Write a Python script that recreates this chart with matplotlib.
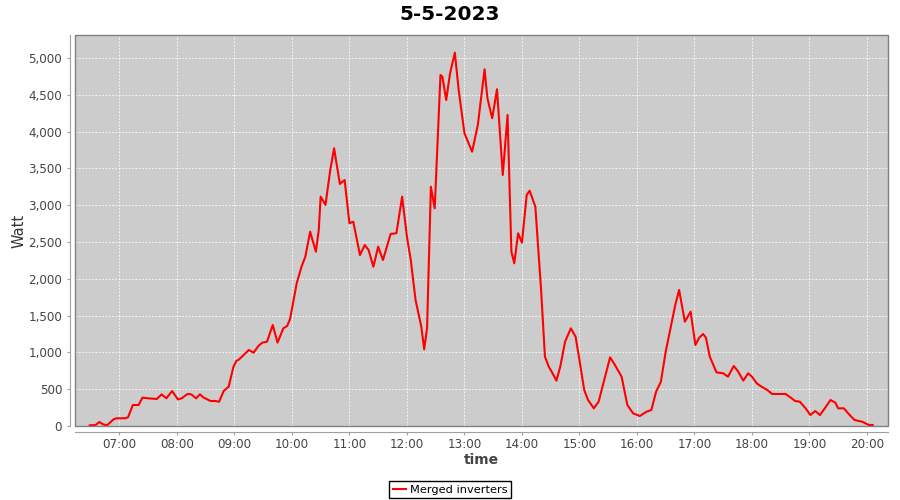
import numpy as np
import pandas as pd
import matplotlib
matplotlib.use("Agg")
import matplotlib.pyplot as plt
import matplotlib.dates as mdates
import matplotlib.patches as mpatches
from matplotlib.ticker import FuncFormatter, MultipleLocator

# readings of the merged inverters, 5-5-2023
times = ["06:29", "06:35", "06:39", "06:43", "06:47", "06:54", "06:57", "07:06", "07:09", "07:14",
         "07:20", "07:24", "07:30", "07:39", "07:44", "07:49", "07:55", "08:01", "08:05", "08:11",
         "08:15", "08:20", "08:24", "08:28", "08:35", "08:40", "08:44", "08:49", "08:54", "08:59",
         "09:02", "09:05", "09:15", "09:20", "09:25", "09:29", "09:34", "09:40", "09:45", "09:51",
         "09:55", "09:58", "10:05", "10:10", "10:14", "10:19", "10:25", "10:28", "10:30", "10:35",
         "10:40", "10:44", "10:50", "10:55", "11:00", "11:04", "11:11", "11:16", "11:20", "11:25",
         "11:30", "11:35", "11:43", "11:49", "11:55", "12:00", "12:04", "12:09", "12:15", "12:18",
         "12:21", "12:25", "12:29", "12:35", "12:37", "12:41", "12:45", "12:50", "12:54", "13:00",
         "13:08", "13:14", "13:21", "13:24", "13:29", "13:34", "13:40", "13:45", "13:49", "13:52",
         "13:56", "14:00", "14:05", "14:08", "14:14", "14:20", "14:24", "14:28", "14:31", "14:36",
         "14:40", "14:45", "14:51", "14:56", "15:00", "15:05", "15:09", "15:15", "15:20", "15:25",
         "15:32", "15:37", "15:44", "15:50", "15:56", "16:03", "16:10", "16:15", "16:20", "16:25",
         "16:30", "16:35", "16:40", "16:44", "16:50", "16:56", "17:01", "17:05", "17:09", "17:12",
         "17:16", "17:23", "17:30", "17:35", "17:41", "17:45", "17:51", "17:56", "18:00", "18:05",
         "18:10", "18:16", "18:21", "18:35", "18:40", "18:45", "18:50", "18:56", "19:01", "19:06",
         "19:11", "19:16", "19:22", "19:27", "19:30", "19:36", "19:41", "19:47", "19:55", "20:02",
         "20:06"]
watts = [10, 12, 54, 23, 10, 91, 105, 105, 118, 285,
         285, 385, 376, 367, 430, 376, 475, 362, 376, 435,
         430, 376, 430, 385, 340, 340, 330, 480, 534, 806,
         883, 906, 1033, 996, 1087, 1132, 1145, 1372, 1132, 1327,
         1359, 1450, 1939, 2164, 2300, 2640, 2368, 2663, 3116, 3003,
         3478, 3773, 3288, 3342, 2754, 2776, 2323, 2459, 2391, 2164,
         2436, 2255, 2610, 2618, 3116, 2572, 2255, 1712, 1349, 1042,
         1327, 3251, 2958, 4769, 4746, 4429, 4792, 5072, 4565, 3977,
         3727, 4090, 4846, 4452, 4181, 4575, 3410, 4226, 2368, 2210,
         2618, 2491, 3139, 3197, 2980, 1848, 942, 806, 738, 616,
         806, 1145, 1327, 1213, 897, 489, 353, 240, 330, 580,
         933, 829, 670, 285, 172, 136, 194, 217, 466, 602,
         1009, 1327, 1644, 1848, 1417, 1553, 1100, 1200, 1250, 1200,
         942, 729, 716, 670, 815, 751, 616, 716, 670, 580,
         534, 489, 435, 435, 390, 340, 330, 240, 149, 204,
         149, 240, 353, 317, 240, 240, 163, 82, 58, 14,
         14]

day = "2023-05-05"
t = pd.to_datetime([day + " " + s for s in times])

fig = plt.figure(figsize=(9, 5), dpi=100)
ax = fig.add_axes([0.0837, 0.148, 0.903, 0.782])
ax.set_facecolor("#cccccc")

ax.plot(t, watts, color="red", lw=1.5, label="Merged inverters")

ax.set_xlim(pd.Timestamp(day + " 06:14"), pd.Timestamp(day + " 20:22"))
ax.set_ylim(0, 5312)

ax.xaxis.set_major_locator(mdates.HourLocator())
ax.xaxis.set_major_formatter(mdates.DateFormatter("%H:%M"))
ax.yaxis.set_major_locator(MultipleLocator(500))
ax.yaxis.set_major_formatter(FuncFormatter(lambda v, p: f"{v:,.0f}"))

ax.grid(True, color="white", ls=(0, (2, 2)), lw=0.6)
ax.set_axisbelow(True)

for s in ["top", "right"]:
    ax.spines[s].set_visible(False)
for s in ["left", "bottom"]:
    ax.spines[s].set_position(("outward", 4))
    ax.spines[s].set_color("#a0a0a0")
ax.add_patch(mpatches.Rectangle((0, 0), 1, 1, transform=ax.transAxes, fill=False,
                                edgecolor="#808080", lw=1, zorder=5, clip_on=False))

ax.tick_params(axis="both", colors="#a0a0a0", labelcolor="#444444", labelsize=8.6,
               length=2, width=0.8)
ax.tick_params(axis="x", pad=3)

ax.set_xlabel("time", fontsize=10, fontweight="bold", color="#444444", labelpad=1)
ax.set_ylabel("Watt", fontsize=10.5, color="#333333", labelpad=1)

fig.suptitle("5-5-2023", fontsize=14.4, fontweight="bold", y=0.99)

fig.legend(loc="lower center", bbox_to_anchor=(0.5, 0.004), fontsize=8.2, frameon=True,
           fancybox=False, edgecolor="black", framealpha=1, handlelength=1.2,
           handletextpad=0.3, borderpad=0.3, borderaxespad=0)

fig.savefig("out.png", dpi=100)
